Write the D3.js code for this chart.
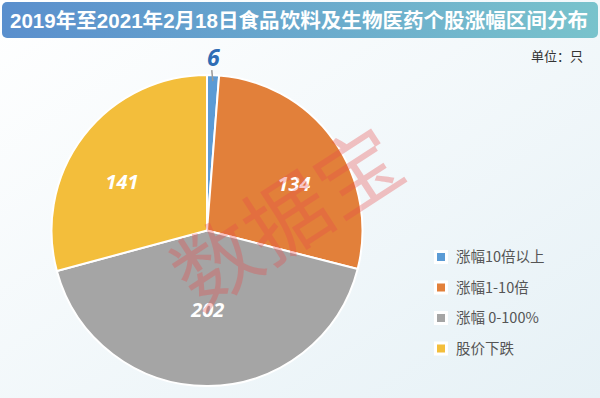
<!DOCTYPE html>
<html>
<head>
<meta charset="utf-8">
<script src="https://cdn.jsdelivr.net/npm/d3@7"></script>
<style>
  body { margin: 0; background: #fff; }
  svg { display: block; font-family: "Noto Sans CJK SC", "Noto Sans", sans-serif; }
</style>
</head>
<body>
<div id="chart"></div>
<script>
// chart data
const categories = ["涨幅10倍以上", "涨幅1-10倍", "涨幅 0-100%", "股价下跌"]
const counts = [6, 134, 202, 141]
const colors = ["#5b9bd5", "#e2803a", "#a5a5a5", "#f3be3b"]

const width = 600, height = 398
const center = { x: 207, y: 230.5 }
const radius = 155.5

const svg = d3.select("#chart").append("svg")
    .attr("width", width)
    .attr("height", height)

// background gradient
const defs = svg.append("defs")
const bg = defs.append("linearGradient").attr("id", "bg")
    .attr("x1", 0).attr("y1", 0).attr("x2", 1).attr("y2", 1)
bg.append("stop").attr("offset", "0%").attr("stop-color", "#ffffff")
bg.append("stop").attr("offset", "100%").attr("stop-color", "#e6f1f6")

const tg = defs.append("linearGradient").attr("id", "titlebg")
    .attr("x1", 0).attr("y1", 0).attr("x2", 1).attr("y2", 0)
tg.append("stop").attr("offset", "0%").attr("stop-color", "#5a8fcd")
tg.append("stop").attr("offset", "100%").attr("stop-color", "#79c3cc")

svg.append("rect").attr("width", width).attr("height", height).attr("fill", "url(#bg)")

// title bar
svg.append("rect")
    .attr("x", 2).attr("y", 2).attr("width", 596).attr("height", 36)
    .attr("rx", 5)
    .attr("fill", "url(#titlebg)")
svg.append("text")
    .attr("x", 10).attr("y", 28)
    .attr("textLength", 578)
    .attr("lengthAdjust", "spacingAndGlyphs")
    .style("font-family", "'Liberation Sans', 'Noto Sans CJK SC', sans-serif")
    .style("font-size", "20px")
    .style("font-weight", "bold")
    .style("fill", "#fff")
    .text("2019年至2021年2月18日食品饮料及生物医药个股涨幅区间分布")

svg.append("text")
    .attr("x", 583).attr("y", 61)
    .attr("text-anchor", "end")
    .style("font-size", "13px")
    .style("fill", "#333")
    .text("单位：只")

// pie
const pie = d3.pie().sort(null).value(d => d)
const arcs = pie(counts)
const arc = d3.arc().innerRadius(0).outerRadius(radius)
const unitArc = d3.arc().innerRadius(1).outerRadius(1)

const g = svg.append("g").attr("transform", `translate(${center.x},${center.y})`)

g.selectAll("path")
    .data(arcs)
    .enter()
    .append("path")
        .attr("d", arc)
        .attr("fill", (d, i) => colors[i])
        .attr("stroke", "#fff")
        .attr("stroke-width", 2)

// labels inside the large slices, placed on an ellipse around the center
g.selectAll("text.inner")
    .data(arcs.filter(d => d.value > 20))
    .enter()
    .append("text")
        .attr("class", "inner")
        .attr("transform", d => {
            const c = unitArc.centroid(d)
            return `translate(${c[0] * 107},${c[1] * 80})`
        })
        .attr("text-anchor", "middle")
        .attr("dy", "0.35em")
        .style("font-family", "'Open Sans', sans-serif")
        .style("font-size", "20px")
        .style("font-weight", "bold")
        .style("font-style", "italic")
        .style("fill", "#fff")
        .text(d => d.value)

// small slice: outside label with leader line
const small = arcs.filter(d => d.value <= 20)
const lineIn = d3.arc().innerRadius(radius - 6).outerRadius(radius - 6)
const lineOut = d3.arc().innerRadius(radius + 5).outerRadius(radius + 5)
const outLabel = d3.arc().innerRadius(radius + 9).outerRadius(radius + 9)
g.selectAll("line.leader")
    .data(small)
    .enter()
    .append("line")
        .attr("x1", d => lineIn.centroid(d)[0])
        .attr("y1", d => lineIn.centroid(d)[1])
        .attr("x2", d => lineOut.centroid(d)[0] - 1.5)
        .attr("y2", d => lineOut.centroid(d)[1])
        .attr("stroke", "#9a9a9a")
        .attr("stroke-width", 1.5)
g.selectAll("text.outer")
    .data(small)
    .enter()
    .append("text")
        .attr("transform", d => `translate(${outLabel.centroid(d)})`)
        .attr("text-anchor", "middle")
        .style("font-family", "'Open Sans', sans-serif")
        .style("font-size", "23px")
        .style("font-weight", "bold")
        .style("font-style", "italic")
        .style("fill", "#2e6db5")
        .text(d => d.value)

// watermark
svg.append("text")
    .attr("transform", "translate(288,219) rotate(-33)")
    .attr("text-anchor", "middle")
    .attr("dy", "0.35em")
    .style("font-size", "84px")
    .style("fill", "#e84a4a")
    .style("opacity", 0.32)
    .text("数据宝")

// legend
const legend = svg.append("g").selectAll("g")
    .data(categories)
    .enter()
    .append("g")
        .attr("transform", (d, i) => `translate(437,${257 + i * 30.5})`)
legend.append("rect")
    .attr("x", -3).attr("y", -7).attr("width", 14).attr("height", 14)
    .attr("fill", "#fff")
legend.append("rect")
    .attr("x", 0).attr("y", -4).attr("width", 8).attr("height", 8)
    .attr("fill", (d, i) => colors[i])
legend.append("text")
    .attr("x", 19).attr("dy", "0.35em")
    .style("font-size", "14.5px")
    .style("fill", "#555")
    .text(d => d)
</script>
</body>
</html>
